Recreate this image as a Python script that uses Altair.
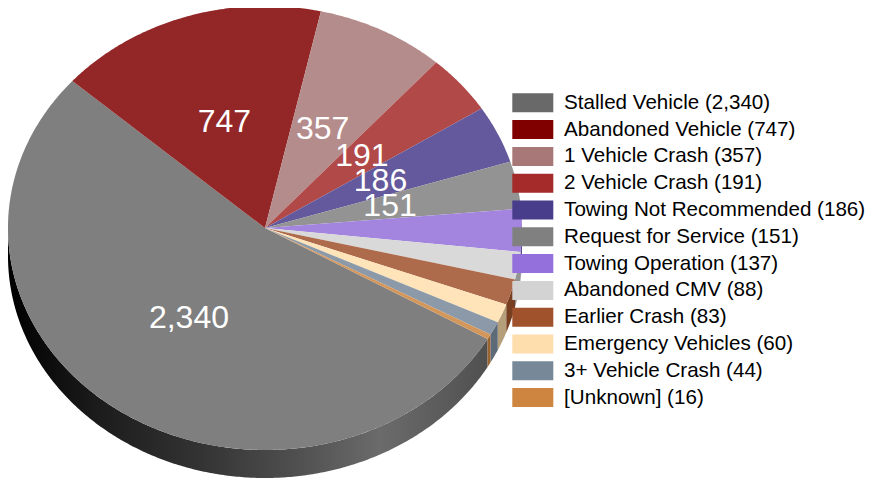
import math
import altair as alt
import pandas as pd

categories = ["Stalled Vehicle", "Abandoned Vehicle", "1 Vehicle Crash", "2 Vehicle Crash",
              "Towing Not Recommended", "Request for Service", "Towing Operation",
              "Abandoned CMV", "Earlier Crash", "Emergency Vehicles", "3+ Vehicle Crash", "[Unknown]"]
values = [2340, 747, 357, 191, 186, 151, 137, 88, 83, 60, 44, 16]
legend_colors = ["#696969", "#800000", "#A87878", "#A52A2A", "#483D8B", "#808080",
                 "#9370DB", "#D3D3D3", "#A0522D", "#FFDEAD", "#778899", "#CD853F"]
side_colors = ["#505050", "#600000", "#7E5A5A", "#7C2020", "#362E68", "#606060",
               "#5E4A90", "#949494", "#783E22", "#B59E7A", "#5D6A78", "#9A6430"]
labelled = 6

START_DEG = 120.0
DEPTH = 28 / 222
WIDTH, HEIGHT = 857, 471
RX, RY = 257, 222
CX, CY = 257, 220

total = sum(values)
labels = [f"{c} ({v:,})" for c, v in zip(categories, values)]

angle = START_DEG
spans = []
for v in values:
    sweep = 360 * v / total
    spans.append((angle, angle + sweep))
    angle += sweep


def pt(deg):
    r = math.radians(deg)
    return math.sin(r), math.cos(r)


def arc(a, b):
    n = max(2, int(abs(b - a) / 0.5) + 1)
    return [pt(a + (b - a) * i / n) for i in range(n + 1)]


top_rows, text_rows, walls = [], [], []
for i, (a, b) in enumerate(spans):
    poly = [(0.0, 0.0)] + arc(a, b) + [(0.0, 0.0)]
    for k, (x, y) in enumerate(poly):
        top_rows.append(dict(label=labels[i], ord=k, px=x, py=y))
    if i < labelled:
        x, y = pt((a + b) / 2)
        text_rows.append(dict(px=0.5 * x, py=0.5 * y, txt=f"{values[i]:,}"))
    # the visible wall is the part of the rim on the near half of the ellipse
    for lo, hi in ((a, b), (a - 360, b - 360), (a + 360, b + 360)):
        s, e = max(lo, 90), min(hi, 270)
        if e > s:
            rim = arc(s, e)
            band = rim + [(x, y - DEPTH) for x, y in reversed(rim)] + [rim[0]]
            walls.append((i, pd.DataFrame([dict(ord=k, px=x, py=y) for k, (x, y) in enumerate(band)])))

top_df = pd.DataFrame(top_rows)
text_df = pd.DataFrame(text_rows)
gloss_df = pd.DataFrame([dict(ord=k, px=x, py=y) for k, (x, y) in enumerate(arc(0, 360))])

x_enc = alt.X("px:Q", axis=None,
              scale=alt.Scale(domain=[-CX / RX, (WIDTH - CX) / RX], nice=False, zero=False))
y_enc = alt.Y("py:Q", axis=None,
              scale=alt.Scale(domain=[-(HEIGHT - CY) / RY, CY / RY], nice=False, zero=False))
order = alt.Order("ord:Q")

grad = alt.Gradient(
    gradient="linear", x1=0, x2=1, y1=0, y2=0,
    stops=[alt.GradientStop(color="#000000", offset=0),
           alt.GradientStop(color="#1c1c1c", offset=0.19),
           alt.GradientStop(color="#333333", offset=0.40),
           alt.GradientStop(color="#4e4e4e", offset=0.59),
           alt.GradientStop(color="#6b6b6b", offset=0.776),
           alt.GradientStop(color="#505050", offset=1)])

wall_layers = []
for i, df in walls:
    fill = grad if i == 0 else side_colors[i]
    wall_layers.append(alt.Chart(df).mark_line(fill=fill, strokeWidth=0).encode(x=x_enc, y=y_enc, order=order))

top = alt.Chart(top_df).mark_line(strokeWidth=0).encode(
    x=x_enc, y=y_enc, order=order,
    fill=alt.Fill("label:N", sort=labels,
                  scale=alt.Scale(domain=labels, range=legend_colors),
                  legend=alt.Legend(
                      title=None, orient="none", legendX=514.5, legendY=84.5, padding=0,
                      symbolType="M-2.158,-1H2.158V1H-2.158Z", symbolSize=361,
                      symbolStrokeWidth=0, symbolOpacity=1,
                      labelFont="Liberation Sans", labelFontSize=20.6, labelColor="#000000",
                      labelOffset=21, labelLimit=400, rowPadding=5.8, columnPadding=0)))

gloss = alt.Chart(gloss_df).mark_line(fill="#ffffff", fillOpacity=0.15, strokeWidth=0).encode(
    x=x_enc, y=y_enc, order=order)

text = alt.Chart(text_df).mark_text(font="Liberation Sans", fontSize=32, color="#ffffff",
                                    align="center", baseline="middle", dx=-1).encode(
    x=x_enc, y=y_enc, text="txt:N")

chart = alt.layer(*wall_layers, top, gloss, text).properties(
    width=WIDTH, height=HEIGHT, padding=0,
    autosize=alt.AutoSizeParams(type="none"),
).configure_view(stroke=None)

chart.save("out.html", embed_options={"renderer": "svg", "actions": False})
